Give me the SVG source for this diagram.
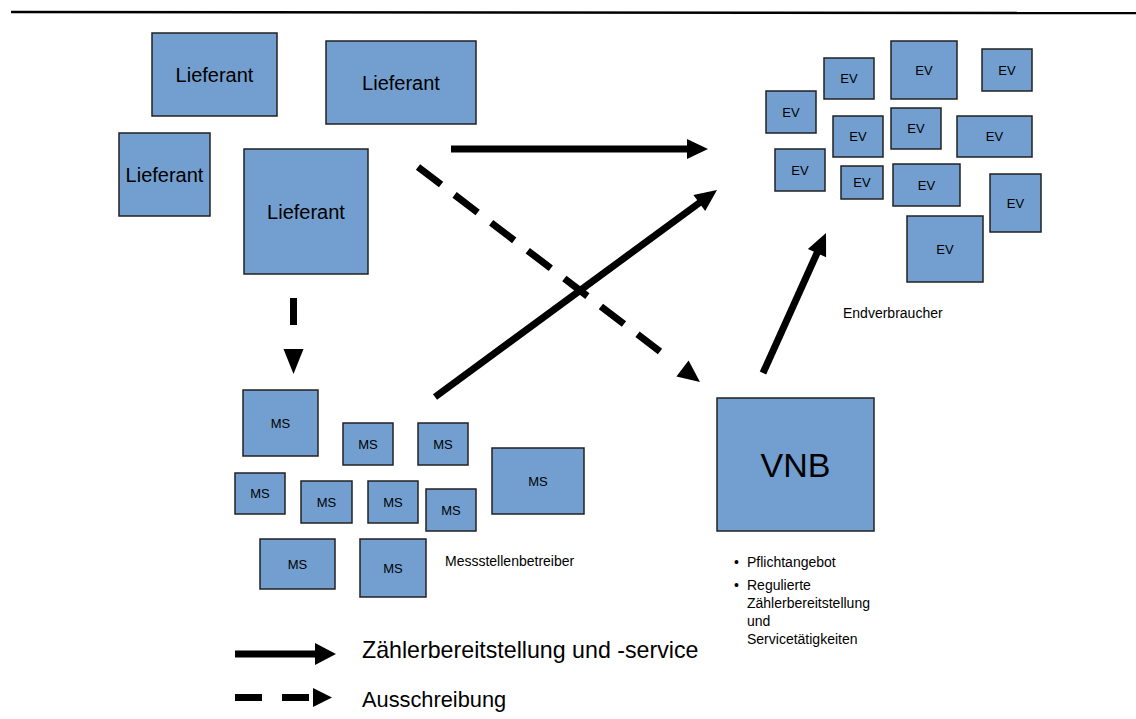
<svg xmlns="http://www.w3.org/2000/svg" width="1136" height="719" viewBox="0 0 1136 719">
<style>
.b{fill:#729fcf;stroke:#222;stroke-width:1.5}
.t{font-family:"Liberation Sans",Arial,sans-serif;fill:#000;text-anchor:middle}
.l{font-size:20px}
.s{font-size:13px}
.p{font-family:"Liberation Sans",Arial,sans-serif;fill:#000;font-size:14px}
.g{font-family:"Liberation Sans",Arial,sans-serif;fill:#000;font-size:23.2px}
.g2{font-family:"Liberation Sans",Arial,sans-serif;fill:#000;font-size:21.8px}
.c{stroke:#000;stroke-width:7;fill:none}
.h{fill:#000}
</style>
<rect width="1136" height="719" fill="#fff"/>
<line x1="11" y1="12" x2="1136" y2="13" stroke="#000" stroke-width="2.5"/>

<g id="lieferant1"><rect class="b" x="152" y="33" width="125" height="83"/><text class="t l" x="214.5" y="82">Lieferant</text></g>
<g id="lieferant2"><rect class="b" x="326" y="41" width="150" height="83"/><text class="t l" x="401" y="90">Lieferant</text></g>
<g id="lieferant3"><rect class="b" x="119" y="133" width="91" height="83"/><text class="t l" x="164.5" y="182">Lieferant</text></g>
<g id="lieferant4"><rect class="b" x="244" y="149" width="124" height="125"/><text class="t l" x="306" y="219">Lieferant</text></g>

<g id="ev1"><rect class="b" x="824" y="58" width="50" height="41"/><text class="t s" x="849" y="83">EV</text></g>
<g id="ev2"><rect class="b" x="891" y="41" width="66" height="58"/><text class="t s" x="924" y="75">EV</text></g>
<g id="ev3"><rect class="b" x="982" y="49" width="50" height="42"/><text class="t s" x="1007" y="75">EV</text></g>
<g id="ev4"><rect class="b" x="766" y="91" width="50" height="42"/><text class="t s" x="791" y="117">EV</text></g>
<g id="ev5"><rect class="b" x="833" y="116" width="50" height="41"/><text class="t s" x="858" y="141">EV</text></g>
<g id="ev6"><rect class="b" x="891" y="108" width="50" height="41"/><text class="t s" x="916" y="133">EV</text></g>
<g id="ev7"><rect class="b" x="957" y="116" width="75" height="41"/><text class="t s" x="994.5" y="141">EV</text></g>
<g id="ev8"><rect class="b" x="775" y="149" width="50" height="42"/><text class="t s" x="800" y="175">EV</text></g>
<g id="ev9"><rect class="b" x="841" y="166" width="42" height="33"/><text class="t s" x="862" y="187">EV</text></g>
<g id="ev10"><rect class="b" x="893" y="164" width="67" height="42"/><text class="t s" x="926.5" y="190">EV</text></g>
<g id="ev11"><rect class="b" x="990" y="174" width="51" height="58"/><text class="t s" x="1015.5" y="208">EV</text></g>
<g id="ev12"><rect class="b" x="907" y="216" width="76" height="66"/><text class="t s" x="945" y="254">EV</text></g>
<text id="endverbraucher" class="p" x="843" y="318">Endverbraucher</text>

<g id="ms1"><rect class="b" x="243" y="390" width="75" height="66"/><text class="t s" x="280.5" y="428">MS</text></g>
<g id="ms2"><rect class="b" x="343" y="423" width="50" height="42"/><text class="t s" x="368" y="449">MS</text></g>
<g id="ms3"><rect class="b" x="418" y="423" width="50" height="42"/><text class="t s" x="443" y="449">MS</text></g>
<g id="ms4"><rect class="b" x="492" y="448" width="92" height="66"/><text class="t s" x="538" y="486">MS</text></g>
<g id="ms5"><rect class="b" x="235" y="473" width="50" height="41"/><text class="t s" x="260" y="498">MS</text></g>
<g id="ms6"><rect class="b" x="301" y="481" width="51" height="42"/><text class="t s" x="326.5" y="507">MS</text></g>
<g id="ms7"><rect class="b" x="368" y="481" width="50" height="42"/><text class="t s" x="393" y="507">MS</text></g>
<g id="ms8"><rect class="b" x="426" y="489" width="50" height="42"/><text class="t s" x="451" y="515">MS</text></g>
<g id="ms9"><rect class="b" x="260" y="539" width="75" height="50"/><text class="t s" x="297.5" y="569">MS</text></g>
<g id="ms10"><rect class="b" x="360" y="539" width="66" height="58"/><text class="t s" x="393" y="573">MS</text></g>
<text id="messstellenbetreiber" class="p" x="445" y="566">Messstellenbetreiber</text>

<g id="vnb"><rect class="b" x="717" y="398" width="157" height="133"/><text class="t" x="795.5" y="477" font-size="34">VNB</text></g>
<g id="vnb-notes" class="p">
<text x="734" y="567">•</text><text x="747" y="567">Pflichtangebot</text>
<text x="734" y="590">•</text><text x="747" y="590">Regulierte</text>
<text x="747" y="608">Zählerbereitstellung</text>
<text x="747" y="626">und</text>
<text x="747" y="644">Servicetätigkeiten</text>
</g>

<g id="connectors">
<line class="c" x1="451" y1="149" x2="688" y2="149"/>
<polygon class="h" points="687,139 708,149 687,159"/>
<line class="c" x1="435" y1="397" x2="700.5" y2="202"/>
<polygon class="h" points="705.2,211.1 717,190 693.4,194.9"/>
<line class="c" x1="763" y1="373" x2="817.5" y2="252"/>
<polygon class="h" points="826.1,257.2 826,233 807.9,249"/>
<line class="c" x1="418" y1="167" x2="660" y2="351.5" stroke-dasharray="29 17"/>
<polygon class="h" points="688.6,360.6 700,382 676.4,376.6"/>
<line class="c" x1="293.5" y1="298" x2="293.5" y2="325" stroke-width="6"/>
<polygon class="h" points="283.5,349 303.5,349 293.5,374"/>
</g>

<g id="legend">
<line class="c" x1="235" y1="654" x2="316" y2="654" stroke-width="6"/>
<polygon class="h" points="315,643 336,654 315,665"/>
<text class="g" x="362" y="658">Zählerbereitstellung und -service</text>
<line class="c" x1="235" y1="697.5" x2="262" y2="697.5"/>
<line class="c" x1="282" y1="697.5" x2="309" y2="697.5"/>
<polygon class="h" points="313,688 332,697.5 313,707"/>
<text class="g2" x="362" y="707">Ausschreibung</text>
</g>
</svg>
